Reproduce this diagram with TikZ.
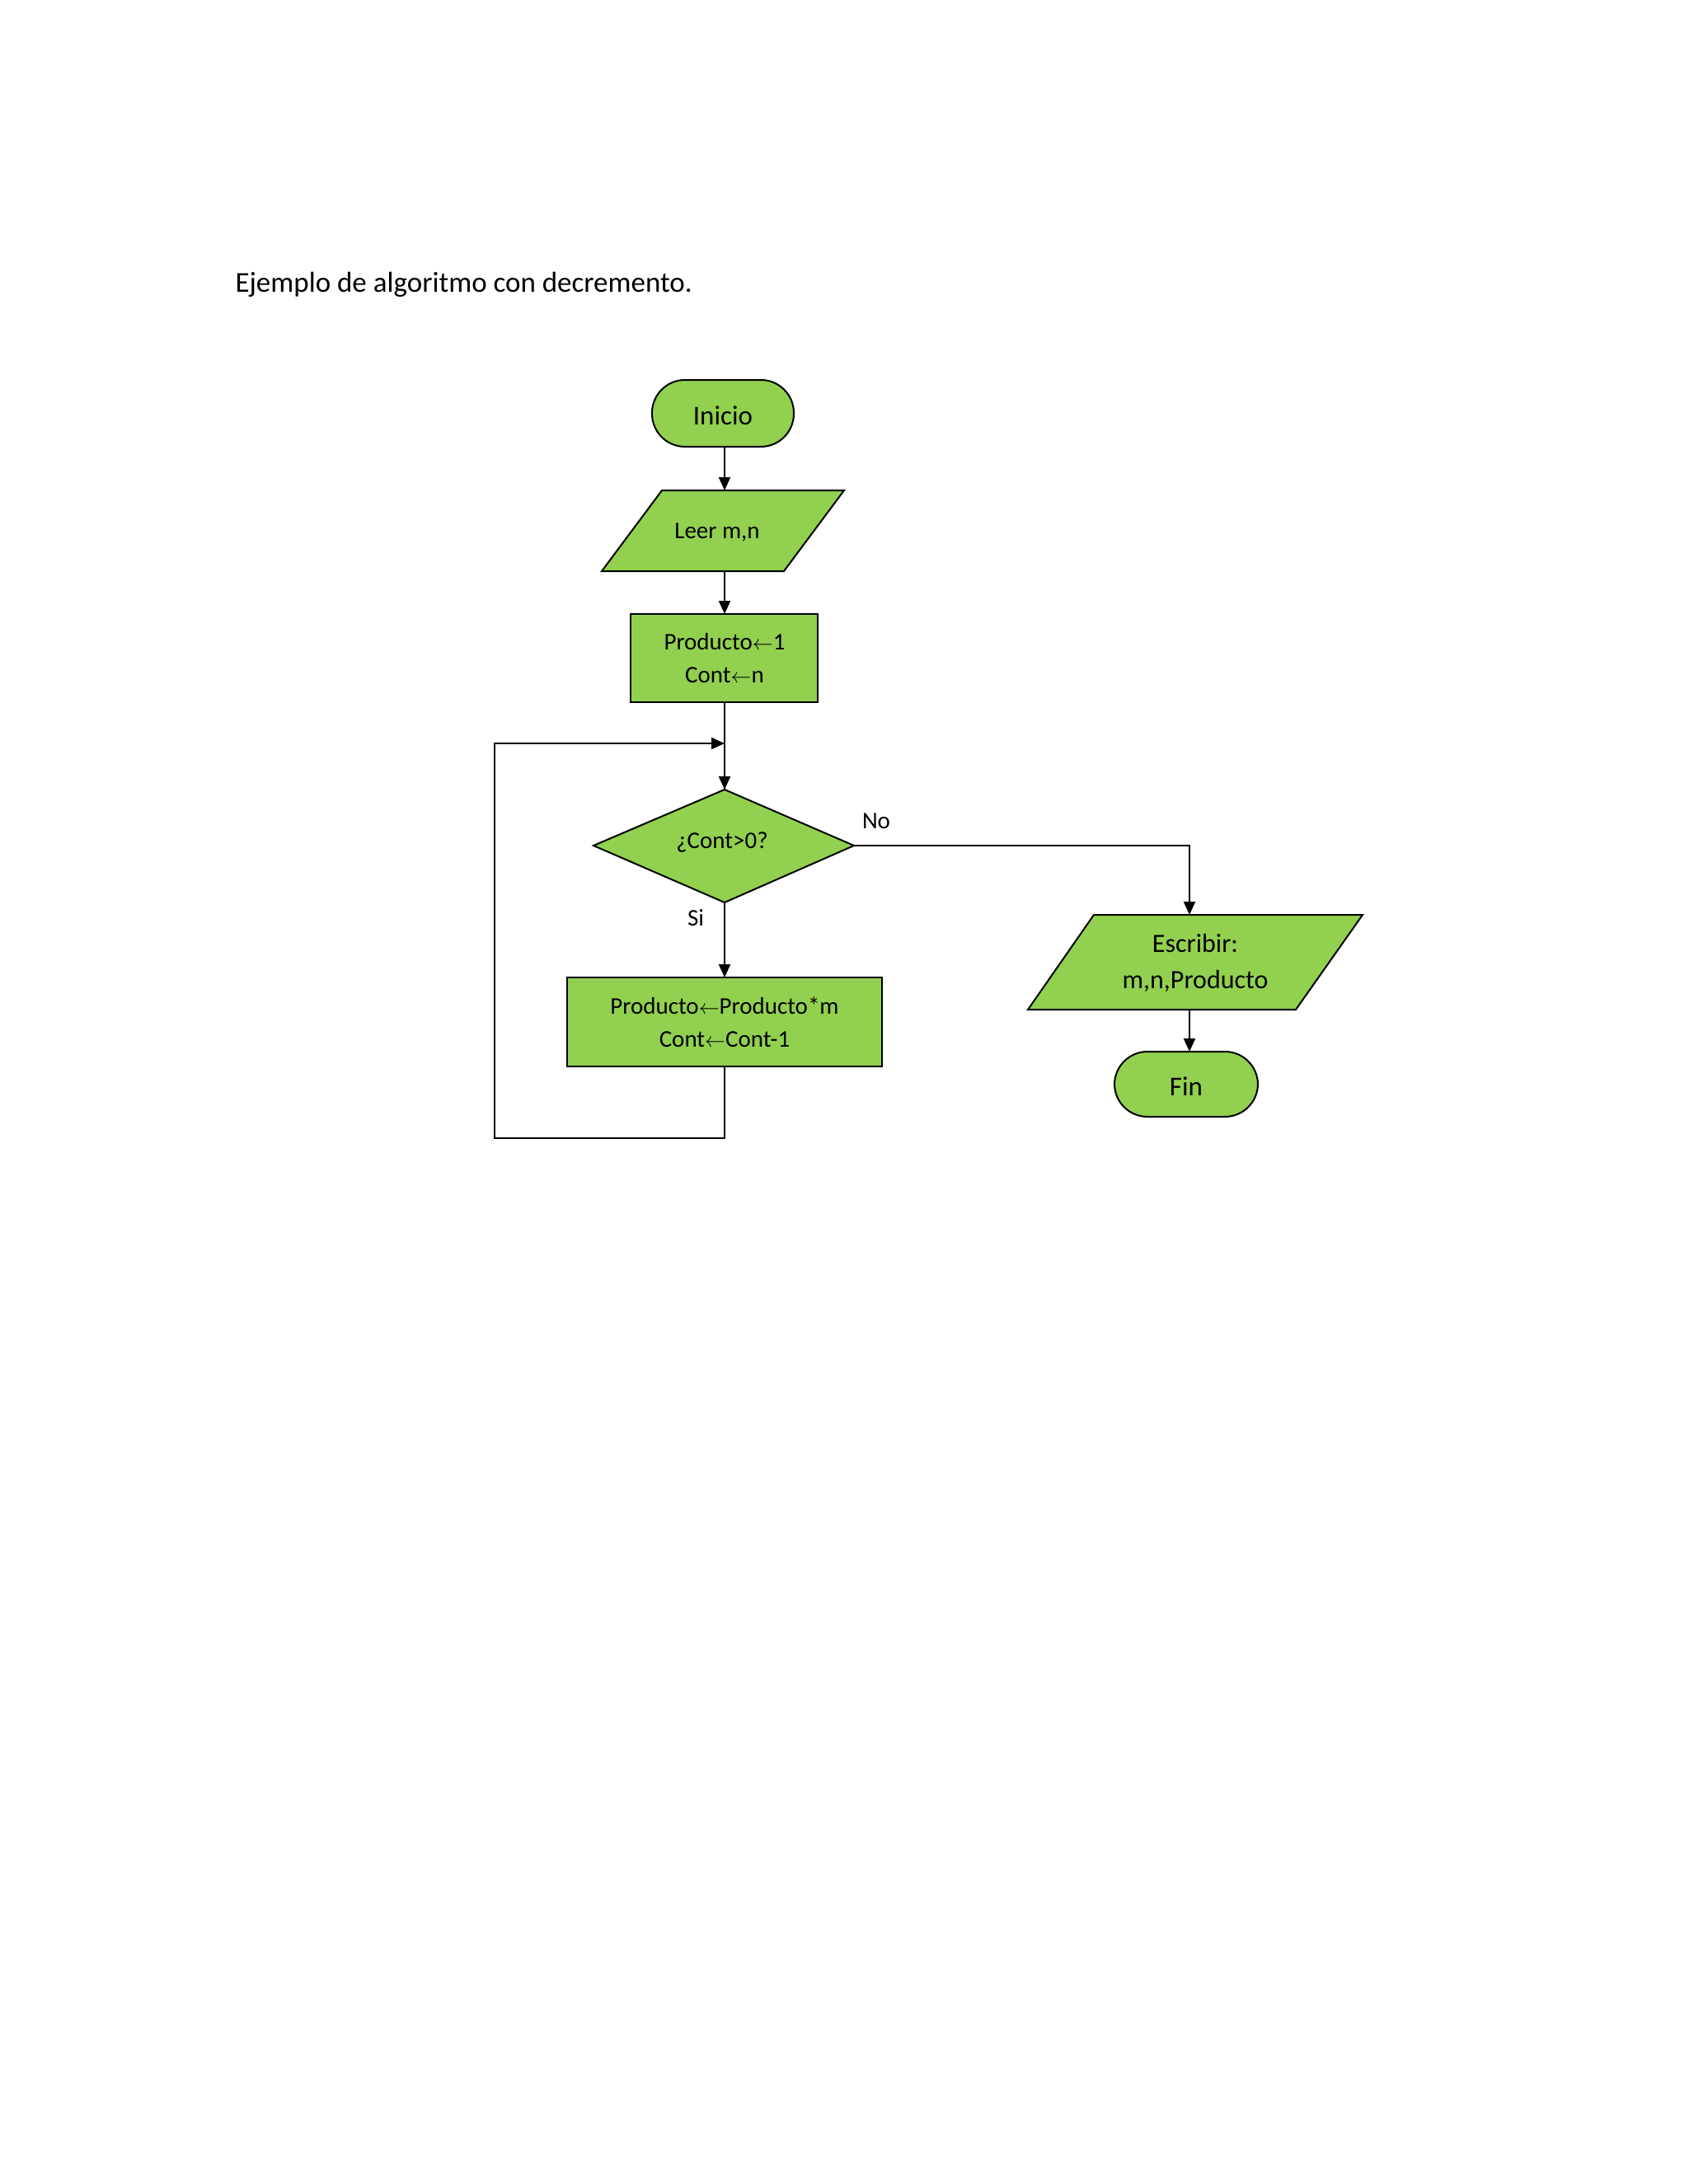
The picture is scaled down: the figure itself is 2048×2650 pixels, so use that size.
\documentclass[tikz,border=0pt]{standalone}
\usepackage{fontspec}
\setmainfont{Carlito}
\usetikzlibrary{arrows.meta}
\definecolor{fc}{HTML}{92D050}
\begin{document}
\begin{tikzpicture}[x=1pt,y=-1pt,
  shp/.style={draw=black,fill=fc,line width=2pt},
  con/.style={line width=2pt,-{Triangle[length=16pt,width=14pt]}},
  ln/.style={line width=2pt},
  txt/.style={font=\fontsize{29}{40}\selectfont,align=center}]
\useasboundingbox (0,0) rectangle (2048,2650);
\node[anchor=west,font=\fontsize{35}{42}\selectfont] (title) at (282,345) {Ejemplo de algoritmo con decremento.};
% Inicio
\draw[shp,rounded corners=40pt] (791,461) rectangle (963,542);
\node[txt,font=\fontsize{33}{40}\selectfont] (ini) at (877,504) {Inicio};
\coordinate (iniB) at (879,542);
% Leer
\draw[shp] (730,693) -- (803,595) -- (1024,595) -- (951,693) -- cycle;
\node[txt] (leer) at (870,646) {Leer m,n};
\coordinate (leerT) at (879,595); \coordinate (leerB) at (879,693);
% Producto box
\draw[shp] (765,745) rectangle (992,852);
\node[txt] (p1) at (879,799) {Producto$\leftarrow$1\\Cont$\leftarrow$n};
\coordinate (p1T) at (879,745); \coordinate (p1B) at (879,852);
% Diamond
\draw[shp] (720,1026) -- (879,958) -- (1036,1026) -- (879,1095) -- cycle;
\node[txt] (dec) at (876,1022) {¿Cont>0?};
\coordinate (decT) at (879,958); \coordinate (decB) at (879,1095); \coordinate (decR) at (1036,1026);
% Box2
\draw[shp] (688,1186) rectangle (1070,1294);
\node[txt] (p2) at (879,1240) {Producto$\leftarrow$Producto*m\\Cont$\leftarrow$Cont-1};
\coordinate (p2T) at (879,1186); \coordinate (p2B) at (879,1294);
% Escribir
\draw[shp] (1247,1225) -- (1327,1110) -- (1653,1110) -- (1572,1225) -- cycle;
\node[txt,font=\fontsize{32}{44}\selectfont] (esc) at (1450,1168) {Escribir:\\m,n,Producto};
\coordinate (escT) at (1443,1110); \coordinate (escB) at (1443,1225);
% Fin
\draw[shp,rounded corners=40pt] (1352,1276) rectangle (1526,1355);
\node[txt,font=\fontsize{33}{40}\selectfont] (fin) at (1439,1318) {Fin};
\coordinate (finT) at (1443,1276);
% connectors
\draw[con] (iniB) -- (leerT);
\draw[con] (leerB) -- (p1T);
\draw[con] (p1B) -- (decT);
\draw[con] (decB) -- (p2T);
\coordinate (lp1) at (879,1381); \coordinate (lp2) at (600,1381);
\coordinate (lp3) at (600,902); \coordinate (lp4) at (879,902);
\draw[con] (p2B) -- (lp1) -- (lp2) -- (lp3) -- (lp4);
\coordinate (rc) at (1443,1026);
\draw[con] (decR) -- (rc) -- (escT);
\draw[con] (escB) -- (finT);
\node[font=\fontsize{29}{34}\selectfont] (no) at (1063,996) {No};
\node[font=\fontsize{29}{34}\selectfont] (si) at (844,1114) {Si};
\end{tikzpicture}
\end{document}
